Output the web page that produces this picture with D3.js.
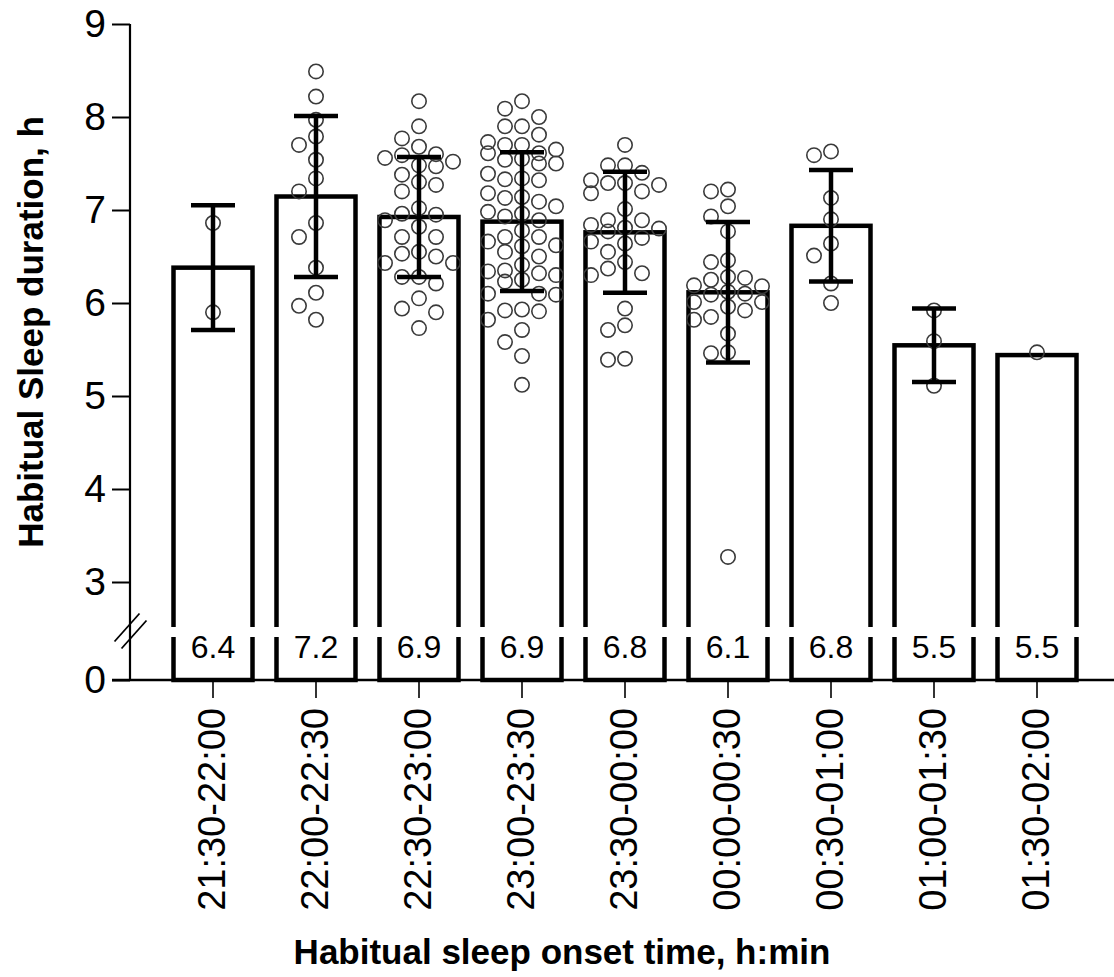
<!DOCTYPE html>
<html><head><meta charset="utf-8">
<script src="https://cdn.jsdelivr.net/npm/d3@7"></script>
<style>
body{margin:0;background:#fff}
svg{display:block}
text{font-family:"Liberation Sans",Arial,Helvetica,sans-serif;fill:#000}
</style>
</head><body>
<svg id="chart" width="1114" height="977"></svg>
<script>
// ---------- data ----------
const categories = ["21:30-22:00","22:00-22:30","22:30-23:00","23:00-23:30","23:30-00:00","00:00-00:30","00:30-01:00","01:00-01:30","01:30-02:00"];
const means = [6.38, 7.145, 6.925, 6.875, 6.76, 6.115, 6.83, 5.545, 5.44];
const sds = [0.67, 0.865, 0.645, 0.745, 0.65, 0.755, 0.60, 0.395, 0];
const meanLabels = ["6.4","7.2","6.9","6.9","6.8","6.1","6.8","5.5","5.5"];
const yTickValues = [3,4,5,6,7,8,9];
const yLowTickValues = [0];

const pts2130 = [6.86, 5.90];
const pts2200 = [8.49, 8.22, 7.97, 7.79, 7.70, 7.54, 7.34, 7.20, 6.86, 6.71, 6.38, 6.11, 5.97, 5.82];
const pts2230 = [8.17,7.90,7.77,7.68,7.59,7.52,7.47,7.48,7.56,7.60,7.30,7.20,7.27,7.38,7.02,6.95,6.82,6.89,6.96,6.71,6.55,6.50,6.53,6.71,6.43,6.28,6.21,6.28,6.43,6.05,5.94,5.90,5.73];
const pts2300 = [8.17,8.09,8.00,7.90,7.90,7.81,7.73,7.70,7.65,7.70,7.61,7.54,7.50,7.50,7.55,7.61,7.39,7.34,7.32,7.33,7.18,7.13,7.14,7.04,6.96,6.98,7.09,6.89,6.93,6.78,6.71,6.62,6.66,6.71,6.61,6.55,6.50,6.41,6.35,6.32,6.25,6.23,6.30,6.34,6.10,6.09,6.10,5.93,5.91,5.92,5.82,5.71,5.58,5.43,5.12];
const pts2330 = [7.70,7.48,7.48,7.40,7.29,7.27,7.20,7.18,7.29,7.32,7.01,6.89,6.89,6.84,6.80,6.81,6.77,6.66,6.64,6.70,6.55,6.37,6.30,6.32,6.44,5.94,5.71,5.76,5.39,5.40];
const pts0000 = [7.22,7.20,7.04,6.93,6.77,6.44,6.46,6.28,6.25,6.18,6.19,6.27,6.10,6.01,5.96,6.01,6.09,6.12,5.85,5.82,5.92,5.67,5.46,5.47,3.27];
const pts0030 = [7.59,7.63,7.13,6.90,6.64,6.51,6.21,6.00];
const pts0100 = [5.92,5.59,5.11];
const pts0130 = [5.47];
const pointSets = [pts2130, pts2200, pts2230, pts2300, pts2330, pts0000, pts0030, pts0100, pts0130];

// ---------- layout ----------
const svg = d3.select("#chart");
const axisX = 130, yZero = 680, breakTop = 627, breakBot = 637;
const FONT = '"Liberation Sans",Arial,sans-serif';

const x = d3.scaleBand().domain(categories).range([161.5, 1088.5])
  .paddingInner(0.233).paddingOuter(0.1165);
const y = d3.scaleLinear().domain([3, 9]).range([582, 24]);
const yLow = d3.scaleLinear().domain([0, 1]).range([yZero, yZero - 93]);
const bw = x.bandwidth();

// bars
const bars = svg.append("g");
categories.forEach((c, i) => {
  bars.append("rect")
    .attr("x", x(c)).attr("y", y(means[i]))
    .attr("width", bw).attr("height", yLow(0) - y(means[i]))
    .attr("fill", "#fff").attr("stroke", "#000").attr("stroke-width", 4.5);
  bars.append("rect")
    .attr("x", x(c) - 5).attr("y", breakTop)
    .attr("width", bw + 10).attr("height", breakBot - breakTop)
    .attr("fill", "#fff");
  bars.append("text")
    .attr("x", x(c) + bw / 2).attr("y", 658)
    .attr("text-anchor", "middle").attr("font-size", 32)
    .text(meanLabels[i]);
});

// points (dodged columns)
const colStep = 17, maxCol = 2, minGap = 16;
const colOrder = [0];
for (let k = 1; k <= maxCol; k++) colOrder.push(-k, k);
const ptsG = svg.append("g");
pointSets.forEach((vals, i) => {
  const c = categories[i];
  const cx = x(c) + bw / 2;
  const items = vals.map(v => ({v, py: y(v)})).sort((a, b) => a.py - b.py);
  const last = {};
  items.forEach(p => {
    let best = null, bestGap = -1;
    for (const col of colOrder) {
      const g = last[col] === undefined ? Infinity : p.py - last[col];
      if (g >= minGap) { best = col; break; }
      if (g > bestGap) { bestGap = g; best = col; }
    }
    last[best] = p.py;
    p.col = best;
  });
  ptsG.selectAll(null).data(items).join("circle")
    .attr("cx", d => cx + d.col * colStep)
    .attr("cy", d => y(d.v))
    .attr("r", 7.2)
    .attr("fill", "none").attr("stroke", "#3a3a3a").attr("stroke-width", 1.6);
});

// error bars
const eb = svg.append("g").attr("stroke", "#000").attr("stroke-width", 4.5);
categories.forEach((c, i) => {
  if (!sds[i]) return;
  const cx = x(c) + bw / 2;
  const hi = y(means[i] + sds[i]), lo = y(means[i] - sds[i]);
  eb.append("line").attr("x1", cx).attr("x2", cx).attr("y1", hi).attr("y2", lo);
  eb.append("line").attr("x1", cx - 22).attr("x2", cx + 22).attr("y1", hi).attr("y2", hi);
  eb.append("line").attr("x1", cx - 22).attr("x2", cx + 22).attr("y1", lo).attr("y2", lo);
});

// y axis
const yAxisG = svg.append("g").attr("transform", `translate(${axisX},0)`)
  .call(d3.axisLeft(y).tickValues(yTickValues).tickFormat(d3.format("d")).tickSize(18).tickPadding(6).tickSizeOuter(0));
const yLowG = svg.append("g").attr("transform", `translate(${axisX},0)`)
  .call(d3.axisLeft(yLow).tickValues(yLowTickValues).tickFormat(d3.format("d")).tickSize(18).tickPadding(6).tickSizeOuter(0));
[yAxisG, yLowG].forEach(g => {
  g.select(".domain").remove();
  g.selectAll(".tick line").attr("stroke", "#000").attr("stroke-width", 2);
  g.selectAll(".tick text").attr("font-size", 39).attr("font-family", FONT).attr("fill", "#000");
});
svg.append("line").attr("x1", axisX).attr("x2", axisX)
  .attr("y1", y(9)).attr("y2", yLow(0))
  .attr("stroke", "#000").attr("stroke-width", 2.2);
// axis break mark
const bmY = (breakTop + breakBot) / 2;
[-3.5, 3.5].forEach(o => {
  svg.append("line")
    .attr("x1", axisX - 12 + o).attr("y1", bmY + 13 + o)
    .attr("x2", axisX + 13 + o).attr("y2", bmY - 15 + o)
    .attr("stroke", "#000").attr("stroke-width", 1.8);
});

// x axis
const xAxisG = svg.append("g").attr("transform", `translate(0,${yZero})`)
  .call(d3.axisBottom(x).tickSize(18).tickSizeOuter(0));
xAxisG.select(".domain").remove();
xAxisG.selectAll(".tick line").attr("stroke", "#000").attr("stroke-width", 1.6);
xAxisG.selectAll(".tick text")
  .attr("font-size", 38).attr("font-family", FONT).attr("fill", "#000")
  .attr("transform", "rotate(-90)")
  .attr("text-anchor", "end")
  .attr("x", -28).attr("y", -2).attr("dy", "0.36em");
svg.append("line").attr("x1", 112).attr("x2", 1114)
  .attr("y1", yZero).attr("y2", yZero)
  .attr("stroke", "#000").attr("stroke-width", 2.5);

// titles
svg.append("text")
  .attr("x", 562).attr("y", 964)
  .attr("text-anchor", "middle").attr("font-size", 35).attr("font-weight", "bold")
  .text("Habitual sleep onset time, h:min");
svg.append("text")
  .attr("transform", `translate(43,332) rotate(-90)`)
  .attr("text-anchor", "middle").attr("font-size", 35).attr("font-weight", "bold")
  .text("Habitual Sleep duration, h");
</script>
</body></html>
